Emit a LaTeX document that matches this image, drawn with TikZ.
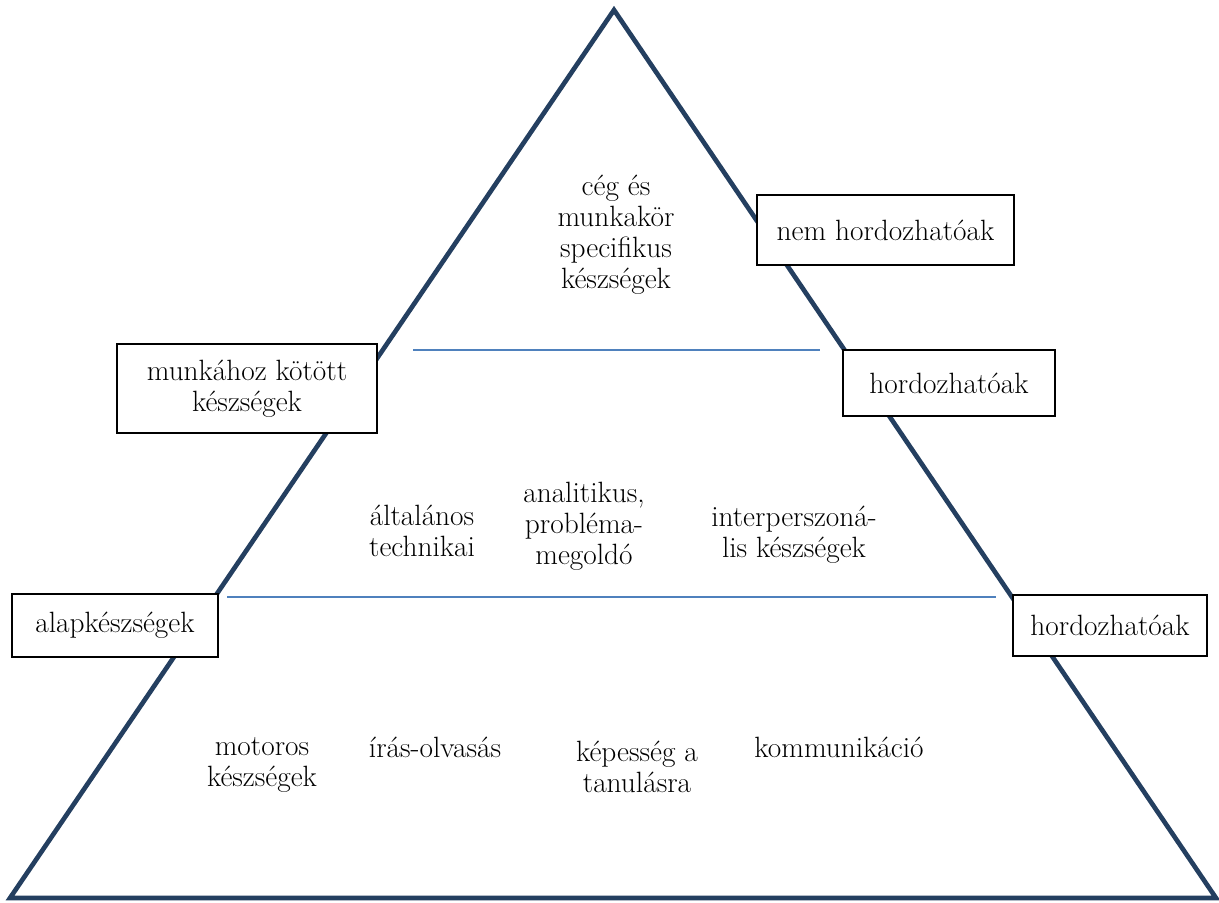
\documentclass[tikz,border=0pt]{standalone}
\usepackage{fontspec}
\usepackage{tikz}
\usetikzlibrary{positioning, calc}
\definecolor{pyramidnavy}{HTML}{243F60}
\definecolor{layerblue}{HTML}{4F81BD}

\begin{document}
\begin{tikzpicture}[x=0.75pt, y=-0.75pt,
  label box/.style={rectangle, draw=black, line width=1.1pt, fill=white,
    inner sep=0pt, align=center, font=\fontsize{22}{23.25}\selectfont},
  skill/.style={align=center, inner sep=0pt, font=\fontsize{22}{23.25}\selectfont},
  divider/.style={draw=layerblue, line width=1pt}
]
  \useasboundingbox (0,0) rectangle (1219,902);

  % pyramid outline
  \coordinate (apex) at (614, 10);
  \coordinate (base left) at (10, 898);
  \coordinate (base right) at (1216, 898);
  \draw[pyramidnavy, line width=3.5pt, line join=miter] (apex) -- (base left) -- (base right) -- cycle;

  % layer dividers
  \coordinate (upper l) at (413, 350);
  \coordinate (upper r) at (820, 350);
  \coordinate (lower l) at (227, 597);
  \coordinate (lower r) at (996, 597);
  \draw[divider] (upper l) -- (upper r);
  \draw[divider] (lower l) -- (lower r);

  % side labels
  \node[label box, minimum width=192.75pt, minimum height=52.5pt] (nemhord) at (885.5, 230) {nem hordozhatóak};
  \node[label box, minimum width=159pt, minimum height=49.5pt] (hord1) at (949, 383) {hordozhatóak};
  \node[label box, minimum width=195pt, minimum height=66.75pt] (munka) at (247, 388.5) {munkához kötött\\készségek};
  \node[label box, minimum width=154.5pt, minimum height=47.25pt] (alap) at (115, 625.5) {alapkészségek};
  \node[label box, minimum width=145.5pt, minimum height=45.75pt] (hord2) at (1110, 625.5) {hordozhatóak};

  % top layer
  \node[skill] (ceg) at (616, 235) {cég és\\munkakör\\specifikus\\készségek};

  % middle layer
  \node[skill] (altal) at (422, 531) {általános\\technikai};
  \node[skill] (anal) at (584, 526) {analitikus,\\probléma-\\megoldó};
  \node[skill] (inter) at (794, 535) {interperszoná-\\lis készségek};

  % bottom layer
  \node[skill] (motor) at (262, 765) {motoros\\készségek};
  \node[skill] (iras) at (435, 747) {írás-olvasás};
  \node[skill] (kepes) at (637, 767) {képesség a\\tanulásra};
  \node[skill] (komm) at (839, 747) {kommunikáció};
\end{tikzpicture}
\end{document}
